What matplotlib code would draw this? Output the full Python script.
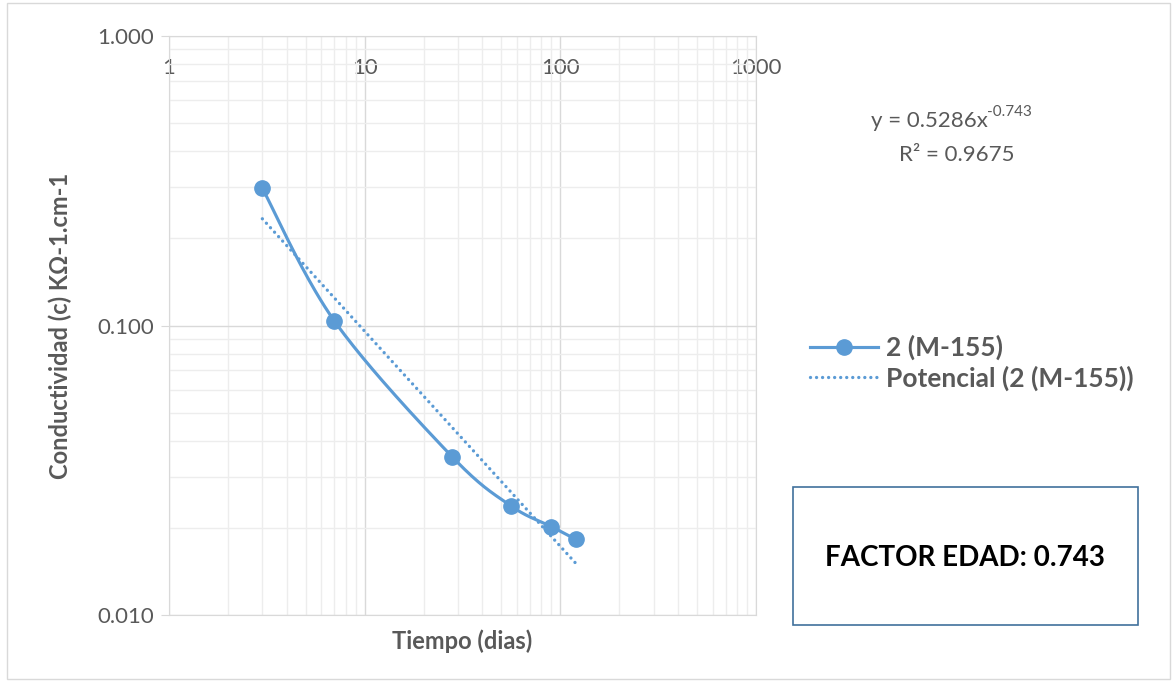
import numpy as np
import matplotlib.pyplot as plt
from matplotlib.ticker import FixedLocator, FuncFormatter, NullFormatter, LogLocator
from matplotlib.patches import Rectangle

# datos
dias = [3, 7, 28, 56, 90, 120]
conductividad = [0.298, 0.1037, 0.0352, 0.0238, 0.0202, 0.01825]

# linea de tendencia potencial (ecuacion mostrada en el grafico)
coef_a = 0.5286
coef_b = -0.743
r2 = 0.9675
factor_edad = 0.743

serie = '2 (M-155)'
azul = '#5b9bd5'
gris = '#595959'
punteado = (0, (0.01, 1.8))

plt.rcParams['font.family'] = ['Lato', 'DejaVu Sans']


def suavizar(x, y, n=40):
    # curva tipo Catmull-Rom en escala log (como la linea suavizada de Excel)
    lx = np.log10(x)
    ly = np.log10(y)
    px = np.concatenate([[lx[0]], lx, [lx[-1]]])
    py = np.concatenate([[ly[0]], ly, [ly[-1]]])
    xs, ys = [], []
    t = np.linspace(0, 1, n)
    for i in range(1, len(px) - 2):
        for p, out in ((px, xs), (py, ys)):
            p0, p1, p2, p3 = p[i - 1], p[i], p[i + 1], p[i + 2]
            out.extend(0.5 * ((2 * p1) + (-p0 + p2) * t
                              + (2 * p0 - 5 * p1 + 4 * p2 - p3) * t ** 2
                              + (-p0 + 3 * p1 - 3 * p2 + p3) * t ** 3))
    return 10 ** np.array(xs), 10 ** np.array(ys)


fig = plt.figure(figsize=(11.75, 6.81), dpi=100)
ax = fig.add_axes([169 / 1175, 1 - 615 / 681, 587 / 1175, 579 / 681])

ax.set_xscale('log')
ax.set_yscale('log')
ax.set_xlim(1, 1000)
ax.set_ylim(0.01, 1)

# linea suavizada + marcadores
sx, sy = suavizar(dias, conductividad)
ax.plot(sx, sy, color=azul, lw=2.25, solid_capstyle='round', zorder=3)
ax.plot(dias, conductividad, 'o', color=azul, ms=11, zorder=4)

# tendencia potencial
xt = np.geomspace(dias[0], dias[-1], 100)
ax.plot(xt, coef_a * xt ** coef_b, color=azul, lw=2.4, linestyle=punteado,
        dash_capstyle='round', zorder=2)

# leyenda (handles para el estilo de Excel)
h1, = ax.plot([], [], '-o', color=azul, lw=2.25, ms=11, label=serie)
h2, = ax.plot([], [], color=azul, lw=2.4, linestyle=punteado,
              dash_capstyle='round', label='Potencial (' + serie + ')')
leg = fig.legend(handles=[h1, h2], loc='center left',
                 bbox_to_anchor=(786 / 1175, 1 - 363 / 681),
                 frameon=False, handlelength=2.6, handletextpad=0.3, labelspacing=0.2,
                 prop={'weight': 'bold', 'size': 19})
for txt in leg.get_texts():
    txt.set_color(gris)

# rejilla
ax.grid(True, which='major', color='#d9d9d9', lw=1)
ax.grid(True, which='minor', color='#ededed', lw=1)
ax.xaxis.set_minor_locator(LogLocator(subs=np.arange(2, 10)))
ax.yaxis.set_minor_locator(LogLocator(subs=np.arange(2, 10)))
ax.xaxis.set_minor_formatter(NullFormatter())
ax.yaxis.set_minor_formatter(NullFormatter())
ax.set_axisbelow(True)

for s in ax.spines.values():
    s.set_color('#d9d9d9')

ax.yaxis.set_major_locator(FixedLocator([0.01, 0.1, 1]))
ax.yaxis.set_major_formatter(FuncFormatter(lambda v, p: '{:.3f}'.format(v)))
ax.xaxis.set_major_locator(FixedLocator([1, 10, 100, 1000]))
ax.xaxis.set_major_formatter(FuncFormatter(lambda v, p: '{:g}'.format(v)))

ax.tick_params(axis='y', which='major', length=6, color='#d9d9d9', labelsize=16,
               labelcolor=gris, pad=5)
ax.tick_params(axis='y', which='minor', length=0)
ax.tick_params(axis='x', which='both', length=0, labelsize=16, labelcolor=gris,
               labeltop=True, labelbottom=False, top=False, bottom=False, pad=-30)

ax.set_ylabel('Conductividad (c) K\u03a9-1.cm-1', fontsize=17, fontweight='bold',
              color=gris, labelpad=18)
ax.text(0.5, -0.025, 'Tiempo (dias)', transform=ax.transAxes, ha='center', va='top',
        fontsize=17, fontweight='bold', color=gris)

# ecuacion y R2 (exponente como superindice aparte)
eq = fig.text(929 / 1175, 1 - 121 / 681, 'y = {:.4f}x'.format(coef_a),
              ha='center', va='center', fontsize=16, color=gris)
ax.annotate('{:.3f}'.format(coef_b), xy=(1, 0.62), xycoords=eq, ha='left', va='bottom',
            fontsize=11, color=gris, annotation_clip=False)
fig.text(957 / 1175, 1 - 155 / 681, 'R\u00b2 = {:.4f}'.format(r2),
         ha='center', va='center', fontsize=16, color=gris)

# cuadro factor edad
fig.patches.append(Rectangle((793 / 1175, 1 - 625 / 681), 345 / 1175, 138 / 681,
                             transform=fig.transFigure, fill=False,
                             edgecolor='#41719c', lw=1.2))
fig.text(965 / 1175, 1 - 558 / 681, 'FACTOR EDAD: {:.3f}'.format(factor_edad),
         ha='center', va='center', fontsize=20, fontweight='bold', color='black')

# borde del area del grafico
fig.patches.append(Rectangle((7 / 1175, 2 / 681), 1163 / 1175, 676 / 681,
                             transform=fig.transFigure, fill=False,
                             edgecolor='#d9d9d9', lw=1))

fig.savefig('out.png', dpi=100)
